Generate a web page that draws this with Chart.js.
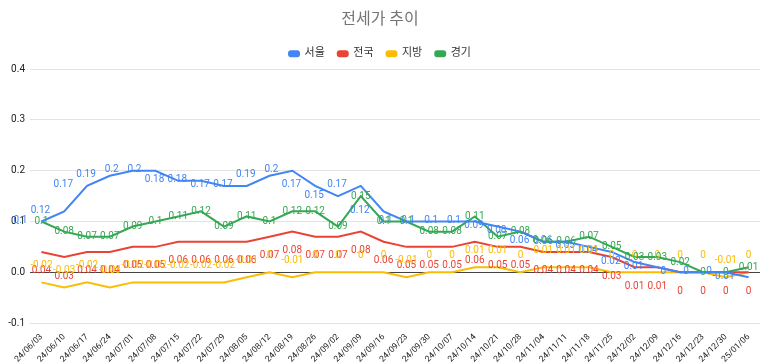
<!DOCTYPE html>
<html>
<head>
<meta charset="utf-8">
<script src="https://cdn.jsdelivr.net/npm/chart.js@4.4.1/dist/chart.umd.min.js"></script>
<style>
  html, body { margin: 0; padding: 0; background: #fff; }
  #wrap { width: 773px; height: 362px; }
</style>
</head>
<body>
<div id="wrap"><canvas id="myChart"></canvas></div>
<script>
// données du graphique
const weeks = ['24/06/03','24/06/10','24/06/17','24/06/24','24/07/01','24/07/08','24/07/15','24/07/22',
  '24/07/29','24/08/05','24/08/12','24/08/19','24/08/26','24/09/02','24/09/09','24/09/16',
  '24/09/23','24/09/30','24/10/07','24/10/14','24/10/21','24/10/28','24/11/04','24/11/11',
  '24/11/18','24/11/25','24/12/02','24/12/09','24/12/16','24/12/23','24/12/30','25/01/06'];
const seoul = [0.1,0.12,0.17,0.19,0.2,0.2,0.18,0.18,0.17,0.17,0.19,0.2,0.17,0.15,0.17,0.12,
  0.1,0.1,0.1,0.1,0.09,0.08,0.06,0.06,0.05,0.04,0.02,0.01,0,0,0,-0.01];
const national = [0.04,0.03,0.04,0.04,0.05,0.05,0.06,0.06,0.06,0.06,0.07,0.08,0.07,0.07,0.08,0.06,
  0.05,0.05,0.05,0.06,0.05,0.05,0.04,0.04,0.04,0.03,0.01,0.01,0,0,0,0];
const regions = [-0.02,-0.03,-0.02,-0.03,-0.02,-0.02,-0.02,-0.02,-0.02,-0.01,0,-0.01,0,0,0,0,
  -0.01,0,0,0.01,0.01,0,0.01,0.01,0.01,0,0,0,0,0,-0.01,0];
const gyeonggi = [0.1,0.08,0.07,0.07,0.09,0.1,0.11,0.12,0.09,0.11,0.1,0.12,0.12,0.09,0.15,0.1,
  0.1,0.08,0.08,0.11,0.07,0.08,0.06,0.06,0.07,0.05,0.03,0.03,0.02,0,0,0.01];
const yTicks = [-0.1, 0, 0.1, 0.2, 0.3, 0.4];

// position des étiquettes pour chaque série (comme dans la feuille d'origine)
const labelPos = [
  { align: 'right', dx: -14, dy: -1 },
  { align: 'center', dx: 0, dy: 19 },
  { align: 'center', dx: 0, dy: -17 },
  { align: 'center', dx: 0, dy: 0 }
];

const valueLabels = {
  id: 'valueLabels',
  afterDatasetsDraw(chart) {
    const ctx = chart.ctx;
    ctx.save();
    ctx.font = '10px Roboto, sans-serif';
    ctx.textBaseline = 'middle';
    chart.data.datasets.forEach((ds, i) => {
      const meta = chart.getDatasetMeta(i);
      const pos = labelPos[i];
      ctx.fillStyle = ds.borderColor;
      ctx.textAlign = pos.align;
      meta.data.forEach((pt, j) => {
        ctx.fillText(String(ds.data[j]), pt.x + pos.dx, pt.y + pos.dy);
      });
    });
    ctx.restore();
  }
};

function serie(label, data, color) {
  return { label: label, data: data, borderColor: color, backgroundColor: color,
    borderWidth: 2, pointRadius: 0, tension: 0, fill: false };
}

const ctx = document.getElementById('myChart').getContext('2d');
new Chart(ctx, {
  type: 'line',
  data: {
    labels: weeks,
    datasets: [
      serie('서울', seoul, '#4285F4'),
      serie('전국', national, '#EA4335'),
      serie('지방', regions, '#FBBC04'),
      serie('경기', gyeonggi, '#34A853')
    ]
  },
  options: {
    responsive: true,
    maintainAspectRatio: false,
    animation: false,
    layout: { padding: { left: 0, right: 13, top: 0, bottom: 0 } },
    font: { family: 'Roboto, "Noto Sans CJK KR", sans-serif' },
    plugins: {
      title: {
        display: true, text: '전세가 추이', color: '#757575',
        font: { size: 16, weight: 'normal', family: 'Roboto, "Noto Sans CJK KR", sans-serif' },
        padding: { top: 10, bottom: 6 }
      },
      legend: {
        labels: {
          color: '#333', boxWidth: 10, boxHeight: 5, padding: 13,
          useBorderRadius: true, borderRadius: 2,
          font: { size: 11, family: 'Roboto, "Noto Sans CJK KR", sans-serif' }
        }
      },
      tooltip: { enabled: false }
    },
    scales: {
      x: {
        offset: true,
        grid: { display: false },
        border: { display: false },
        ticks: { autoSkip: false, maxRotation: 45, minRotation: 45, color: '#222', padding: 1,
          font: { size: 8.5, family: 'Roboto, sans-serif' } },
        afterFit: s => { s.height = 39; }
      },
      y: {
        min: -0.1, max: 0.4,
        afterBuildTicks: s => { s.ticks = yTicks.map(v => ({ value: v })); },
        grid: { color: c => (c.tick && c.tick.value === 0) ? '#444' : '#e3e3e3', drawTicks: false },
        border: { display: false },
        ticks: { color: '#222', padding: 5, font: { size: 10, family: 'Roboto, sans-serif' },
          callback: v => Number(v).toFixed(1) },
        afterFit: s => { s.width = 30; }
      }
    }
  },
  plugins: [valueLabels]
});
</script>
</body>
</html>
